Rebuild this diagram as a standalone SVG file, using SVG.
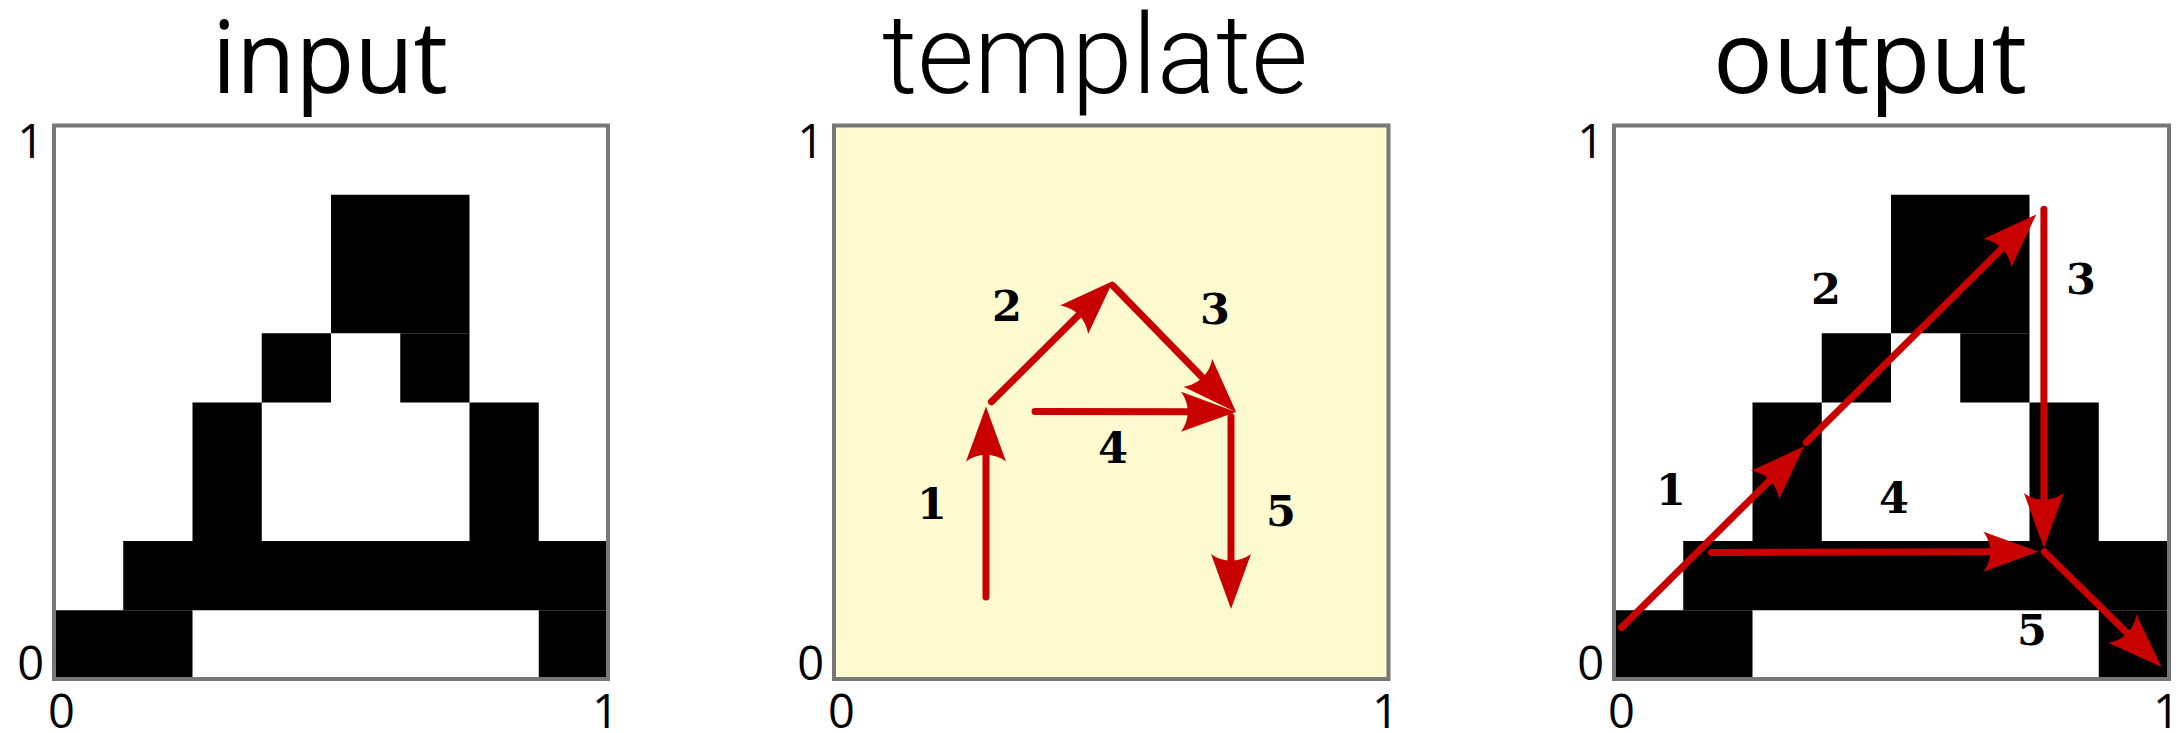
<svg xmlns="http://www.w3.org/2000/svg" xmlns:xlink="http://www.w3.org/1999/xlink" width="2179" height="733" viewBox="0 0 2179 733">
<style>
.title{font-family:"Open Sans","Liberation Sans",sans-serif;font-weight:400;font-size:100px;fill:#000;text-anchor:middle}
.title2{font-family:Roboto,"Liberation Sans",Arial,sans-serif;font-weight:300;font-size:112px;fill:#000;text-anchor:middle}
.tick{font-family:"Open Sans","Liberation Sans",sans-serif;font-size:47px;fill:#000}
.end{text-anchor:end}
.box{fill:none;stroke:#777;stroke-width:4}
.lbl{font-family:"DejaVu Serif",serif;font-weight:bold;font-size:43px;fill:#000;text-anchor:middle}
.arr{stroke:#c80000;stroke-width:7;stroke-linecap:round;fill:none;marker-end:url(#ah)}
</style>
<defs>
<marker id="ah" viewBox="-10 -22 60 44" refX="0" refY="0" markerWidth="60" markerHeight="44" markerUnits="userSpaceOnUse" orient="auto">
<path d="M47,0 L-8,-20 C1,-8 1,8 -8,20 Z" fill="#c80000"/>
</marker>
<g id="pix" fill="#000">
<rect x="277" y="69.25" width="138.5" height="138.5"/>
<rect x="207.75" y="207.75" width="69.25" height="69.25"/>
<rect x="346.25" y="207.75" width="69.25" height="69.25"/>
<rect x="138.5" y="277" width="69.25" height="138.5"/>
<rect x="415.5" y="277" width="69.25" height="138.5"/>
<rect x="69.25" y="415.5" width="484.75" height="69.25"/>
<rect x="0" y="484.75" width="138.5" height="69.25"/>
<rect x="484.75" y="484.75" width="69.25" height="69.25"/>
</g>
</defs>
<rect width="2179" height="733" fill="#fff"/>

<g id="panel-input">
<text class="title" x="330" y="93" textLength="236" lengthAdjust="spacingAndGlyphs">input</text>
<use xlink:href="#pix" x="54" y="125.5"/>
<rect class="box" x="54" y="125.5" width="554" height="553.5"/>
<text class="tick end" x="44" y="158">1</text>
<text class="tick end" x="44" y="680">0</text>
<text class="tick" x="48" y="728">0</text>
<text class="tick" x="592" y="728">1</text>
</g>

<g id="panel-template">
<text class="title2" x="1095" y="93" textLength="426" lengthAdjust="spacingAndGlyphs">template</text>
<rect x="834" y="125.5" width="554.5" height="553.5" fill="#fefad0"/>
<rect class="box" x="834" y="125.5" width="554.5" height="553.5"/>
<text class="tick end" x="824" y="158">1</text>
<text class="tick end" x="824" y="680">0</text>
<text class="tick" x="828" y="728">0</text>
<text class="tick" x="1372" y="728">1</text>
</g>

<g id="panel-output">
<text class="title" x="1870" y="93" textLength="314" lengthAdjust="spacingAndGlyphs">output</text>
<use xlink:href="#pix" x="1614" y="125.5"/>
<rect class="box" x="1614" y="125.5" width="555" height="553.5"/>
<text class="tick end" x="1604" y="158">1</text>
<text class="tick end" x="1604" y="680">0</text>
<text class="tick" x="1608" y="728">0</text>
<text class="tick" x="2153" y="728">1</text>
</g>

<g id="connectors">
<line class="arr" x1="986" y1="597" x2="986" y2="453.5"/>
<line class="arr" x1="991.4" y1="401.8" x2="1079.7" y2="314.1"/>
<line class="arr" x1="1113" y1="285.7" x2="1203.4" y2="378.5"/>
<line class="arr" x1="1035" y1="411.5" x2="1189" y2="411.8"/>
<line class="arr" x1="1231" y1="416.8" x2="1231" y2="562"/>

<line class="arr" x1="1621.5" y1="627.6" x2="1770.7" y2="479.4"/>
<line class="arr" x1="1806.2" y1="442.6" x2="2002.9" y2="247.6"/>
<line class="arr" x1="2043.9" y1="209.3" x2="2043.9" y2="501"/>
<line class="arr" x1="1711.4" y1="552.5" x2="1991.5" y2="551.8"/>
<line class="arr" x1="2044.3" y1="551.7" x2="2128" y2="634"/>
</g>

<g id="labels">
<text class="lbl" x="932" y="519">1</text>
<text class="lbl" x="1007" y="321">2</text>
<text class="lbl" x="1215" y="324">3</text>
<text class="lbl" x="1113" y="463">4</text>
<text class="lbl" x="1281" y="526">5</text>
<text class="lbl" x="1671" y="505">1</text>
<text class="lbl" x="1826" y="303.5">2</text>
<text class="lbl" x="2081" y="294">3</text>
<text class="lbl" x="1894" y="513">4</text>
<text class="lbl" x="2032" y="645">5</text>
</g>
</svg>
